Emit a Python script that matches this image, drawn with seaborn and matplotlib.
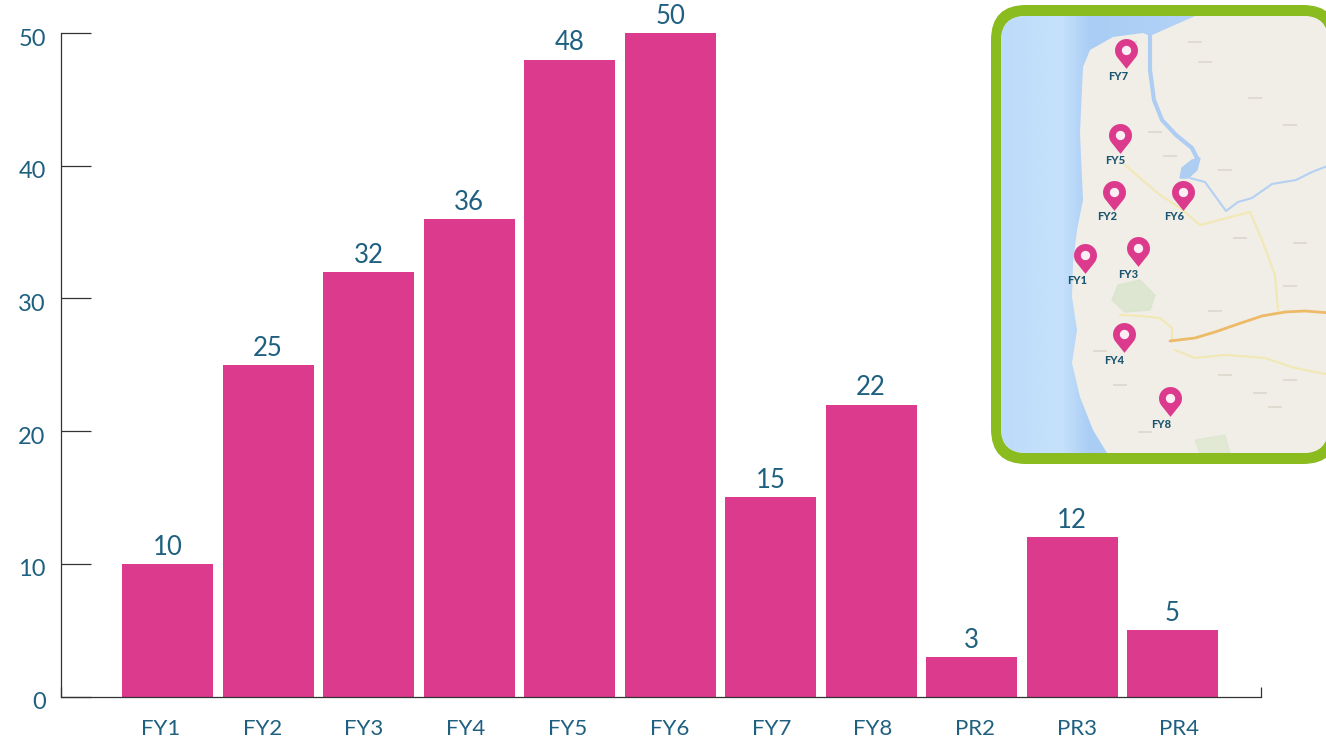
import numpy as np
import pandas as pd
import matplotlib
matplotlib.use("Agg")
import matplotlib.pyplot as plt
import seaborn as sns
from matplotlib.colors import LinearSegmentedColormap
from matplotlib.patches import FancyBboxPatch, Polygon
from matplotlib.path import Path
from matplotlib.transforms import Bbox, ScaledTranslation

# chart data
categories = ["FY1", "FY2", "FY3", "FY4", "FY5", "FY6", "FY7", "FY8", "PR2", "PR3", "PR4"]
counts = [10, 25, 32, 36, 48, 50, 15, 22, 3, 12, 5]
y_ticks = [0, 10, 20, 30, 40, 50]

# map inset, in reference pixels
pin_names = ["FY7", "FY5", "FY2", "FY6", "FY1", "FY3", "FY4", "FY8"]
pin_x = [1126, 1120, 1114, 1183, 1085, 1138, 1124, 1170]
pin_y = [50, 135, 192, 192, 255, 248, 334, 398]
pin_label_x = [1118, 1115, 1107, 1174, 1077, 1128, 1114, 1161]
pin_label_y = [76, 161, 217, 217, 281, 274, 360, 425]

coast_x = [1195, 1150, 1143, 1113, 1090, 1083, 1080, 1083, 1077, 1073, 1072, 1077, 1072, 1080, 1093, 1107]
coast_y = [16, 36, 33, 37, 50, 67, 133, 200, 230, 263, 297, 330, 363, 397, 430, 453]
estuary_x = [1150, 1150, 1154, 1162, 1176, 1192, 1198, 1190]
estuary_y = [36, 70, 100, 120, 135, 148, 160, 172]
basin_x = [1200, 1197, 1188, 1180, 1182, 1192]
basin_y = [158, 170, 178, 178, 168, 160]
river_x = [1190, 1205, 1218, 1226, 1238, 1252, 1272, 1296, 1312, 1330]
river_y = [178, 182, 200, 211, 202, 198, 184, 180, 172, 165]
motorway_x = [1170, 1195, 1215, 1238, 1262, 1285, 1305, 1330]
motorway_y = [341, 338, 332, 324, 316, 312, 311, 313]
road_a_x = [1175, 1195, 1225, 1265, 1295, 1330]
road_a_y = [350, 358, 355, 358, 368, 375]
road_b_x = [1125, 1140, 1160, 1180, 1200, 1250, 1262, 1275, 1278]
road_b_y = [165, 178, 195, 208, 225, 212, 240, 275, 310]
road_c_x = [1120, 1140, 1160, 1172, 1172]
road_c_y = [315, 316, 318, 328, 341]
green_x = [1118, 1140, 1155, 1150, 1125, 1112]
green_y = [285, 280, 295, 310, 312, 300]
green2_x = [1195, 1225, 1230, 1200]
green2_y = [440, 435, 453, 453]
smudge_x = [1130, 1195, 1205, 1255, 1290, 1155, 1170, 1225, 1240, 1300, 1290, 1215, 1260, 1100, 1145, 1225, 1290, 1120, 1275]
smudge_y = [42, 42, 62, 98, 125, 132, 156, 170, 238, 243, 286, 311, 393, 351, 432, 375, 380, 385, 407]

bar_color = "#dc3a8c"
text_color = "#1f6080"
border_color = "#8abb1f"
land_color = "#f1eee7"
sea_cmap = LinearSegmentedColormap.from_list(
    "sea", [(0, "#bcdcfb"), (0.3, "#c6e1fb"), (0.45, "#a9cdf5"), (1, "#b4d3f7")])

sns.set_theme(style="white")
plt.rcParams["font.family"] = ["Lato", "DejaVu Sans"]

fig = plt.figure(figsize=(13.26, 7.45), dpi=100)
ax = fig.add_axes([61 / 1326, (745 - 696.5) / 745, 1200 / 1326, 663.5 / 745])

df = pd.DataFrame({"category": categories, "count": counts})
sns.barplot(data=df, x="category", y="count", color=bar_color, saturation=1, width=0.905, linewidth=0, ax=ax)

ax.set_xlim(-1.06, 10.88)
ax.set_ylim(0, 50)
ax.set_xlabel("")
ax.set_ylabel("")
sns.despine(ax=ax)
for side in ["left", "bottom"]:
    ax.spines[side].set_color("#333333")
    ax.spines[side].set_linewidth(0.9)

# the axis labels run slightly wider than the bars
ax.set_xticks(np.arange(len(categories)) * 1.013 - 0.07, labels=categories)
ax.set_xticks([-1.06, 10.88], minor=True)
ax.tick_params(axis="x", which="major", length=0, pad=16.5, labelsize=16, labelcolor=text_color)
ax.tick_params(axis="x", which="minor", bottom=True, direction="in", length=7, width=0.9, color="#333333")
ax.set_yticks(y_ticks)
ax.tick_params(axis="y", left=True, direction="in", length=21.6, width=0.9, color="#333333",
               pad=11, labelsize=17, labelcolor=text_color)

clip_box = Bbox.from_extents(0, 745 - 735, 1326, 745)
for label in ax.get_xticklabels():
    label.set_clip_box(clip_box)
    label.set_clip_on(True)
shift = ScaledTranslation(0, -3 / 72, fig.dpi_scale_trans)
for label in ax.get_yticklabels():
    label.set_transform(label.get_transform() + shift)

ax.bar_label(ax.containers[0], padding=3, fontsize=18.5, color=text_color, clip_on=False)

# map inset drawn over the chart in pixel coordinates
mp = fig.add_axes([0, 0, 1, 1], zorder=5)
mp.set_axis_off()
mp.patch.set_alpha(0)

outer = FancyBboxPatch((991 + 35, 5 + 35), 347 - 70, 459 - 70, boxstyle="round,pad=35,rounding_size=35",
                       fc=border_color, ec="none", zorder=1)
mp.add_patch(outer)
inner = FancyBboxPatch((1001 + 25, 16 + 25), 327 - 50, 437 - 50, boxstyle="round,pad=25,rounding_size=25",
                       fc=land_color, ec="none", zorder=2)
mp.add_patch(inner)

sea = mp.imshow(np.linspace(0, 1, 200).reshape(1, -1), cmap=sea_cmap, extent=(1001, 1200, 453, 16),
                aspect="auto", zorder=3)
sea.set_clip_path(inner)

land = Polygon(list(zip(coast_x, coast_y)) + [(1330, 453), (1330, 16)], closed=True, fc=land_color, ec="none", zorder=4)
mp.add_patch(land)
land.set_clip_path(inner)

layers = [
    mp.fill(green_x, green_y, color="#d9e5cc", alpha=0.8, zorder=5)[0],
    mp.fill(green2_x, green2_y, color="#dde7d0", alpha=0.8, zorder=5)[0],
    mp.plot(road_a_x, road_a_y, color="#f1e8b4", lw=1.5, zorder=5)[0],
    mp.plot(road_b_x, road_b_y, color="#f1e8b4", lw=1.5, zorder=5)[0],
    mp.plot(road_c_x, road_c_y, color="#f1e8b4", lw=1.5, zorder=5)[0],
    mp.plot(motorway_x, motorway_y, color="#edba68", lw=2, zorder=6)[0],
    mp.plot(estuary_x, estuary_y, color="#aecdf3", lw=3, zorder=6)[0],
    mp.fill(basin_x, basin_y, color="#aecdf3", zorder=6)[0],
    mp.plot(river_x, river_y, color="#b4d0f3", lw=1.5, zorder=6)[0],
    mp.scatter(smudge_x, smudge_y, marker="_", s=110, c="#dfdbd1", linewidths=1.3, zorder=6),
]
for layer in layers:
    layer.set_clip_path(inner)

# pin: round head centred on the origin with a point below it
theta = np.linspace(-np.pi * 0.2, np.pi * 1.2, 40)
pin_path = Path(np.vstack([np.column_stack([np.cos(theta), np.sin(theta)]), [[0, -1.6]]]), closed=False)
mp.scatter(pin_x, pin_y, marker=pin_path, s=700, c=bar_color, linewidths=0, zorder=7)
mp.scatter(pin_x, pin_y, marker="o", s=45, c="#fbeef4", linewidths=0, zorder=8)
for name, lx, ly in zip(pin_names, pin_label_x, pin_label_y):
    mp.text(lx, ly, name, ha="center", va="center", fontsize=8, fontweight="black", color="#1b5570", zorder=8)

mp.set_xlim(0, 1326)
mp.set_ylim(745, 0)

plt.savefig("out.png", dpi=100)
plt.close()
